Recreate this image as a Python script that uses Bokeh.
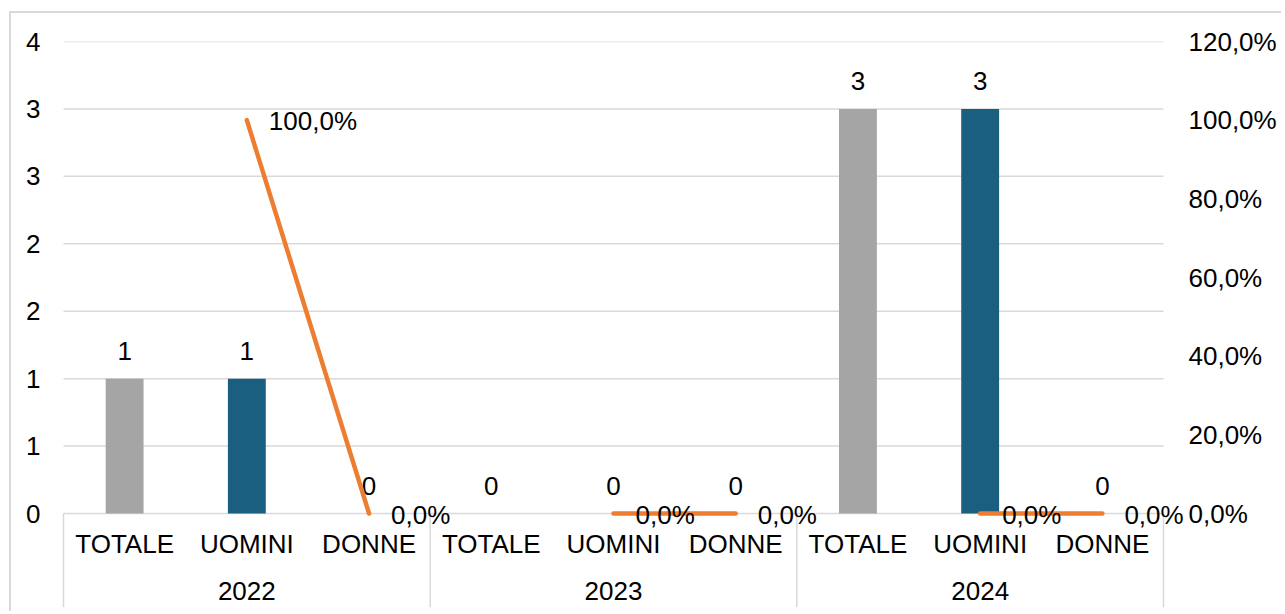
from bokeh.plotting import figure
from bokeh.models import ColumnDataSource, FactorRange, Range1d, LinearAxis, FixedTicker, LabelSet
from bokeh.core.properties import value
from bokeh.embed import file_html
from bokeh.resources import INLINE

# ---------------- data ----------------
years = ["2022", "2023", "2024"]
groups = ["TOTALE", "UOMINI", "DONNE"]
counts_2022 = [1, 1, 0]
counts_2023 = [0, 0, 0]
counts_2024 = [3, 3, 0]
pct_2022 = [float("nan"), 100.0, 0.0]
pct_2023 = [float("nan"), 0.0, 0.0]
pct_2024 = [float("nan"), 0.0, 0.0]
left_ticks = [0, 0.5, 1.0, 1.5, 2.0, 2.5, 3.0, 3.5]
left_tick_labels = ["0", "1", "1", "2", "2", "3", "3", "4"]
right_ticks = [0, 20, 40, 60, 80, 100, 120]
right_tick_labels = ["0,0%", "20,0%", "40,0%", "60,0%", "80,0%", "100,0%", "120,0%"]
group_colors = {"TOTALE": "#A5A5A5", "UOMINI": "#1B5F80", "DONNE": "#4472C4"}

# ---------------- derived ----------------
counts = counts_2022 + counts_2023 + counts_2024
pcts = pct_2022 + pct_2023 + pct_2024
factors = [(y, g) for y in years for g in groups]
bar_colors = [group_colors[g] for (_, g) in factors]
count_text = [str(v) for v in counts]
pct_text = ["" if v != v else (f"{v:.1f}".replace(".", ",") + "%") for v in pcts]
pct_y = [0.0 if v != v else v for v in pcts]
cat_text = [g for (_, g) in factors]
n_cat = len(factors)

FONT = "Liberation Sans"
FS = "26px"
GRID = "#D9D9D9"

# layout (pixels)
CAT_W = 1100 / n_cat          # pixel width of one category
PAD_PX = 23                   # extra room each side so outer labels are not clipped
FW, FH = 1100 + 2 * PAD_PX, 566
MB_L, MB_R, MB_T, MB_B = 29, 95, 28, 4
zero_from_top = 472
ymax = left_ticks[-1]
ymin = -ymax * (FH - zero_from_top) / zero_from_top
pmax = right_ticks[-1]
pmin = ymin * pmax / ymax

x_range = FactorRange(*factors, factor_padding=0, group_padding=0, subgroup_padding=0,
                      range_padding=PAD_PX / CAT_W, range_padding_units="absolute")

p = figure(frame_width=FW, frame_height=FH, x_range=x_range, y_range=Range1d(ymin, ymax),
           output_backend="svg", toolbar_location=None, x_axis_location=None,
           min_border_left=MB_L, min_border_right=MB_R, min_border_top=MB_T,
           min_border_bottom=MB_B)
p.outline_line_color = None
p.background_fill_color = "white"
p.border_fill_color = "white"
p.styles = {"border-left": "2px solid #D9D9D9", "border-top": "2px solid #D9D9D9",
            "margin-left": "9px", "margin-top": "11px"}

p.xgrid.visible = False
p.ygrid.visible = False

# horizontal gridlines across the category span only
p.segment(x0=[0] * len(left_ticks), y0=left_ticks, x1=[n_cat] * len(left_ticks), y1=left_ticks,
          line_color=GRID, line_width=1.5)

# left axis
ya = p.yaxis[0]
ya.ticker = FixedTicker(ticks=left_ticks)
ya.bounds = (0, ymax)
ya.major_label_overrides = dict(zip(left_ticks, left_tick_labels))
ya.axis_line_color = None
ya.major_tick_line_color = None
ya.minor_tick_line_color = None
ya.major_tick_out = 0
ya.major_tick_in = 0
ya.minor_tick_out = 0
ya.major_label_standoff = 0
ya.major_label_text_font = FONT
ya.major_label_text_font_size = FS
ya.major_label_text_color = "black"

# right axis
p.extra_y_ranges = {"pct": Range1d(pmin, pmax)}
ra = LinearAxis(y_range_name="pct", ticker=FixedTicker(ticks=right_ticks), bounds=(0, pmax))
ra.major_label_overrides = dict(zip(right_ticks, right_tick_labels))
ra.axis_line_color = None
ra.major_tick_line_color = None
ra.minor_tick_line_color = None
ra.major_tick_out = 0
ra.major_tick_in = 0
ra.minor_tick_out = 0
ra.major_label_standoff = 2
ra.major_label_text_font = FONT
ra.major_label_text_font_size = FS
ra.major_label_text_color = "black"
p.add_layout(ra, "right")

# category separators (group boundaries, synthetic coordinates)
bounds_x = [float(i * len(groups)) for i in range(len(years) + 1)]
p.segment(x0=bounds_x, y0=[0] * len(bounds_x), x1=bounds_x, y1=[ymin] * len(bounds_x),
          line_color=GRID, line_width=1.5)

src = ColumnDataSource(dict(x=factors, v=counts, c=bar_colors, t=count_text,
                            pc=pcts, py=pct_y, pt=pct_text, cat=cat_text,
                            base=[0] * n_cat))

p.vbar(x="x", top="v", width=0.31, fill_color="c", line_color=None, source=src)

p.text(x="x", y="v", text="t", source=src, text_align="center", text_baseline="alphabetic",
       y_offset=-28, text_font=value(FONT), text_font_size=FS, text_color="black")

p.line(x="x", y="pc", source=src, y_range_name="pct", line_color="#ED7D31",
       line_width=4.5, line_cap="round")

pct_labels = LabelSet(x="x", y="py", text="pt", source=src, y_range_name="pct",
                      text_align="left", text_baseline="middle", x_offset=22, y_offset=-1,
                      text_font=value(FONT), text_font_size=FS, text_color="black")
p.add_layout(pct_labels)

# category labels
p.text(x="x", y="base", text="cat", source=src, text_align="center",
       text_baseline="alphabetic", y_offset=30, text_font=value(FONT), text_font_size=FS,
       text_color="black")
p.text(x=years, y=[0] * len(years), text=years, text_align="center",
       text_baseline="alphabetic", y_offset=77, text_font=value(FONT), text_font_size=FS,
       text_color="black")

open("out.html", "w").write(file_html(p, INLINE))
